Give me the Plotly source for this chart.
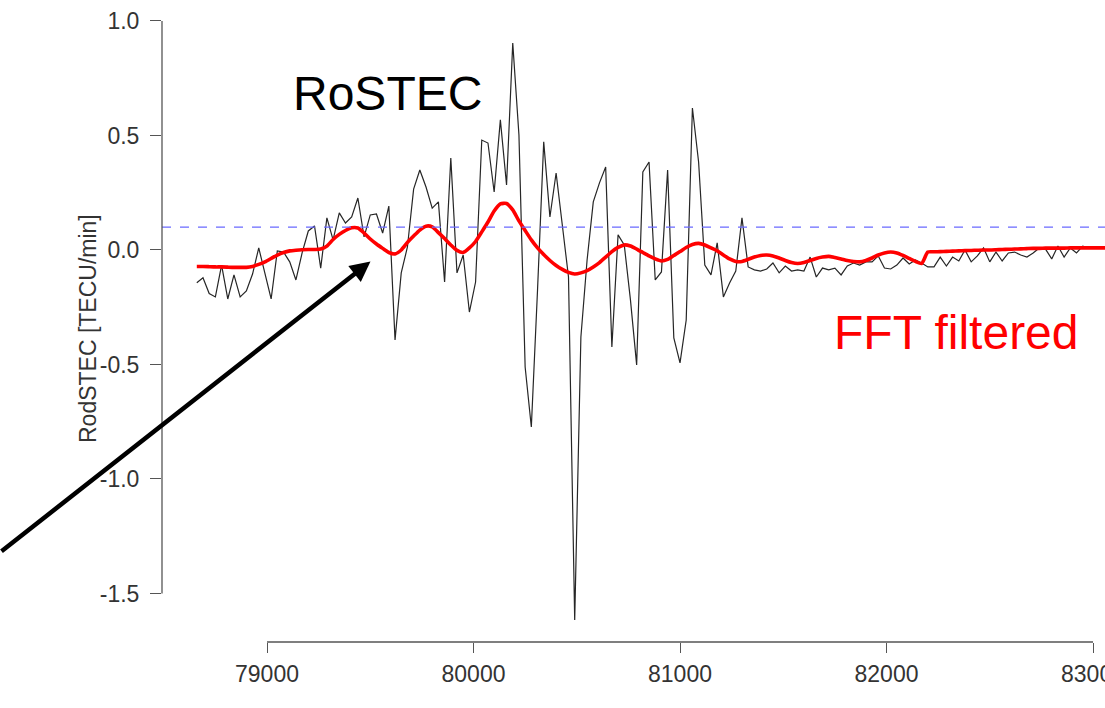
import plotly.graph_objects as go

# ---- data ----
t_start = 78660
t_step = 30

rostec = [
    -0.143, -0.121, -0.190, -0.205, -0.066, -0.214, -0.109, -0.205, -0.179, -0.105,
    0.009, -0.100, -0.214, -0.004, -0.009, -0.052, -0.131, -0.013, 0.083, 0.105,
    -0.079, 0.140, 0.044, 0.162, 0.118, 0.144, 0.227, 0.057, 0.153, 0.157,
    0.074, 0.192, -0.393, -0.100, 0.013, 0.266, 0.349, 0.275, 0.183, 0.210,
    -0.140, 0.402, -0.100, -0.022, -0.271, -0.140, 0.480, 0.467, 0.253, 0.568,
    0.284, 0.904, 0.502, -0.511, -0.773, -0.175, 0.472, 0.144, 0.336, 0.109,
    -0.118, -1.616, -0.380, -0.044, 0.210, 0.293, 0.362, -0.424, 0.066, 0.022,
    -0.218, -0.502, 0.341, 0.384, -0.131, -0.096, 0.349, -0.384, -0.493, -0.306,
    0.620, 0.384, -0.066, -0.109, 0.031, -0.205, -0.144, -0.092, 0.140, -0.074,
    -0.087, -0.092, -0.083, -0.057, -0.100, -0.070, -0.092, -0.087, -0.092, -0.031,
    -0.118, -0.079, -0.087, -0.079, -0.109, -0.070, -0.057, -0.066, -0.052, -0.052,
    -0.026, -0.079, -0.083, -0.066, -0.035, -0.061, -0.044, -0.057, -0.074, -0.074,
    -0.031, -0.070, -0.031, -0.048, 0.000, -0.052, -0.026, 0.009, -0.052, -0.009,
    -0.048, -0.013, -0.009, -0.022, -0.031, -0.013, 0.009, 0.004, -0.039, 0.017,
    -0.031, 0.009, -0.013, 0.017, 0.009, 0.009, 0.009, 0.009,
]

fft_filtered = [
    -0.072, -0.072, -0.073, -0.074, -0.074, -0.075, -0.076, -0.076, -0.076, -0.072,
    -0.063, -0.052, -0.037, -0.022, -0.011, -0.004, -0.001, 0.001, 0.002, 0.002,
    0.004, 0.017, 0.046, 0.068, 0.085, 0.097, 0.096, 0.074, 0.048, 0.026,
    0.007, -0.011, -0.017, 0.000, 0.033, 0.061, 0.087, 0.104, 0.101, 0.076,
    0.050, 0.022, -0.002, -0.011, 0.009, 0.037, 0.079, 0.122, 0.170, 0.201,
    0.203, 0.175, 0.127, 0.085, 0.044, 0.009, -0.020, -0.046, -0.068, -0.085,
    -0.098, -0.105, -0.100, -0.090, -0.074, -0.055, -0.031, -0.007, 0.011, 0.022,
    0.017, 0.004, -0.011, -0.026, -0.039, -0.048, -0.041, -0.024, -0.007, 0.011,
    0.024, 0.029, 0.022, 0.009, -0.004, -0.022, -0.039, -0.050, -0.050, -0.041,
    -0.031, -0.024, -0.022, -0.026, -0.035, -0.046, -0.055, -0.059, -0.055, -0.046,
    -0.037, -0.031, -0.028, -0.033, -0.039, -0.046, -0.050, -0.052, -0.046, -0.035,
    -0.022, -0.013, -0.009, -0.013, -0.024, -0.037, -0.050, -0.059, -0.009, -0.008,
    -0.007, -0.006, -0.005, -0.004, -0.003, -0.002, -0.001, 0.000, 0.000, 0.001,
    0.002, 0.003, 0.004, 0.005, 0.006, 0.007, 0.007, 0.008, 0.008, 0.008,
    0.008, 0.009, 0.009, 0.009, 0.009, 0.009, 0.009, 0.009,
]

times = [t_start + t_step * i for i in range(len(rostec))]

x_ticks = [79000, 80000, 81000, 82000, 83000]
y_ticks = [-1.5, -1.0, -0.5, 0.0, 0.5, 1.0]
y_tick_labels = ["-1.5", "-1.0", "-0.5", "0.0", "0.5", "1.0"]
threshold = 0.1

FONT = "Liberation Sans, Arial, Helvetica, sans-serif"
AXIS_COLOR = "#555555"
W, H = 1105, 708
ML, MR, MT, MB = 162, 0, 10, 66
pw, ph = W - ML - MR, H - MT - MB


def px_x(p):
    return (p - ML) / pw


def px_y(p):
    return 1 - (p - MT) / ph


fig = go.Figure()
fig.add_trace(go.Scatter(x=times, y=rostec, mode="lines",
                         line=dict(color="#262626", width=1.2),
                         showlegend=False, hoverinfo="skip"))
fig.add_trace(go.Scatter(x=times, y=fft_filtered, mode="lines",
                         line=dict(color="#ff0000", width=3.6, shape="spline", smoothing=0.6),
                         showlegend=False, hoverinfo="skip"))

# threshold line
fig.add_shape(type="line", xref="paper", yref="y", x0=0, x1=1, y0=threshold, y1=threshold,
              line=dict(color="#6a6aff", width=1.2, dash="dash"))
# R-style detached axis lines
fig.add_shape(type="line", xref="paper", yref="y", x0=0, x1=0, y0=y_ticks[0], y1=y_ticks[-1],
              line=dict(color=AXIS_COLOR, width=1.3))
fig.add_shape(type="line", xref="x", yref="paper", x0=x_ticks[0], x1=x_ticks[-1], y0=0, y1=0,
              line=dict(color=AXIS_COLOR, width=1.3))

fig.add_annotation(x=79501, y=-0.050, xref="x", yref="y", ax=-371, ay=291,
                   axref="pixel", ayref="pixel", text="", showarrow=True,
                   arrowhead=2, arrowsize=0.9, arrowwidth=4.5, arrowcolor="#000000")

fig.add_annotation(x=px_x(387), y=px_y(93), xref="paper", yref="paper", text="RoSTEC",
                   xanchor="center", yanchor="middle", showarrow=False,
                   font=dict(family=FONT, size=48, color="#000000"))
fig.add_annotation(x=px_x(956), y=px_y(333), xref="paper", yref="paper", text="FFT filtered",
                   xanchor="center", yanchor="middle", showarrow=False,
                   font=dict(family=FONT, size=48, color="#ff0000"))
fig.add_annotation(x=px_x(88), y=px_y(329), xref="paper", yref="paper",
                   text="RodSTEC [TECU/min]", textangle=-90,
                   xanchor="center", yanchor="middle", showarrow=False,
                   font=dict(family=FONT, size=23, color="#333333"))

fig.update_layout(
    width=W, height=H,
    margin=dict(l=ML, r=MR, t=MT, b=MB, pad=0, autoexpand=False),
    paper_bgcolor="white", plot_bgcolor="white",
    font=dict(family=FONT, color="#333333"),
    xaxis=dict(range=[78491.5, 83058], tickvals=x_ticks,
               ticktext=[str(v) for v in x_ticks],
               showgrid=False, zeroline=False, showline=False, automargin=False,
               ticks="outside", ticklen=10, tickwidth=1.3, tickcolor=AXIS_COLOR,
               tickfont=dict(family=FONT, size=23, color="#333333"),
               ticklabelstandoff=1, ticklabeloverflow="allow"),
    yaxis=dict(range=[-1.712, 1.048], tickvals=y_ticks, ticktext=y_tick_labels,
               showgrid=False, zeroline=False, showline=False, automargin=False,
               ticks="outside", ticklen=11, tickwidth=1.3, tickcolor=AXIS_COLOR,
               tickfont=dict(family=FONT, size=23, color="#333333"),
               ticklabelstandoff=6),
)

fig.write_html("out.html", config={"displayModeBar": False, "responsive": False},
               post_script="document.body.style.margin='0';document.body.style.overflow='hidden';")
